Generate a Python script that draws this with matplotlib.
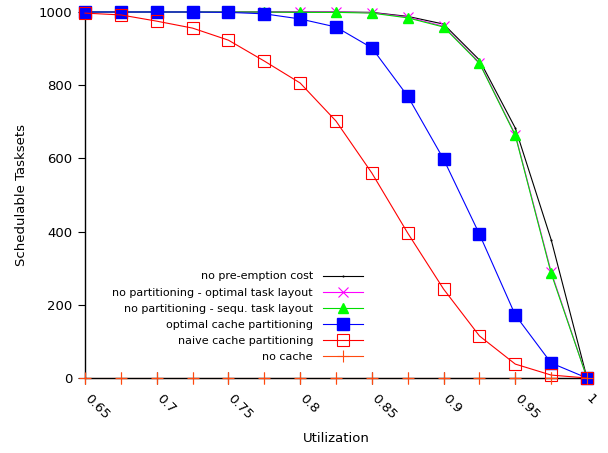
import matplotlib
matplotlib.use("Agg")
import matplotlib.pyplot as plt
from matplotlib.transforms import ScaledTranslation

utilization = [0.65, 0.675, 0.7, 0.725, 0.75, 0.775, 0.8, 0.825, 0.85, 0.875, 0.9, 0.925, 0.95, 0.975, 1.0]

no_preemption = [1000, 1000, 1000, 1000, 1000, 1000, 1000, 1000, 999, 988, 967, 869, 683, 378, 0]
nopart_optimal = [1000, 1000, 1000, 1000, 1000, 1000, 1000, 1000, 998, 986, 961, 862, 665, 290, 0]
nopart_sequ = [1000, 1000, 1000, 1000, 1000, 1000, 999, 999, 997, 984, 959, 860, 663, 286, 0]
optimal_cache = [1000, 1000, 1000, 1000, 999, 995, 981, 959, 902, 770, 598, 393, 172, 41, 0]
naive_cache = [997, 992, 975, 956, 923, 866, 806, 702, 560, 396, 243, 115, 38, 8, 0]
no_cache = [0, 0, 0, 0, 0, 0, 0, 0, 0, 0, 0, 0, 0, 0, 0]

labels = ["no pre-emption cost", "no partitioning - optimal task layout",
          "no partitioning - sequ. task layout", "optimal cache partitioning",
          "naive cache partitioning", "no cache"]

xticks = [0.65, 0.7, 0.75, 0.8, 0.85, 0.9, 0.95, 1.0]
xticklabels = ["0.65", "0.7", "0.75", "0.8", "0.85", "0.9", "0.95", "1"]
yticks = [0, 200, 400, 600, 800, 1000]

W, H = 608, 453
fig = plt.figure(figsize=(W / 100, H / 100), dpi=100)
L, R, T, B = 85, 587, 12, 378
ax = fig.add_axes([L / W, 1 - B / H, (R - L) / W, (B - T) / H])

lw = 0.8
orange = "#ff4a10"
ax.plot(utilization, no_preemption, color="black", lw=lw, marker=".", ms=1.0,
        label=labels[0], clip_on=False, zorder=3)
ax.plot(utilization, nopart_optimal, color="#ff00ff", lw=lw, marker="x", ms=7, mew=0.8,
        label=labels[1], clip_on=False, zorder=4)
ax.plot(utilization, nopart_sequ, color="#00dd00", lw=lw, marker="^", ms=7.5,
        mfc="#00ff00", mec="#00ff00", label=labels[2], clip_on=False, zorder=5)
ax.plot(utilization, optimal_cache, color="#0000ff", lw=lw, marker="s", ms=8,
        mfc="#0000ff", mec="#0000ff", label=labels[3], clip_on=False, zorder=6)
ax.plot(utilization, naive_cache, color="#ff0000", lw=lw, marker="s", ms=8,
        mfc="none", mec="#ff0000", mew=0.8, label=labels[4], clip_on=False, zorder=7)
ax.plot(utilization, no_cache, color=orange, lw=lw, marker="+", ms=9, mew=0.8,
        label=labels[5], clip_on=False, zorder=2)
# markers of "no cache" drawn above the axis line
ax.plot(utilization, no_cache, color=orange, lw=0, marker="+", ms=9, mew=0.8,
        clip_on=False, zorder=8)

ax.set_xlim(0.65, 1.0)
ax.set_ylim(0, 1000)
for s in ["top", "right"]:
    ax.spines[s].set_visible(False)
for s in ["left", "bottom"]:
    ax.spines[s].set_linewidth(1.0)
ax.spines["left"].set_zorder(2.5)
ax.spines["bottom"].set_zorder(2.5)

ax.set_yticks(yticks)
ax.set_xticks(xticks)
ax.set_xticklabels(xticklabels, rotation=-45, ha="left", va="top", rotation_mode="anchor")
ax.tick_params(axis="y", direction="out", length=5, width=0.8, labelsize=9.5, pad=4)
ax.tick_params(axis="x", direction="inout", length=8, width=0.8, labelsize=9.5, pad=6)
off = ScaledTranslation(6 / 100, 0, fig.dpi_scale_trans)
for lab in ax.get_xticklabels():
    lab.set_transform(lab.get_transform() + off)

ax.set_xlabel("Utilization", fontsize=9.5, labelpad=7)
ax.set_ylabel("Schedulable Tasksets", fontsize=9.5, labelpad=8)

leg_x = (363 - L) / (R - L)
leg = ax.legend(loc="lower right", frameon=False, markerfirst=False, fontsize=8,
                handlelength=3.6, handletextpad=0.9, labelspacing=0.55,
                borderaxespad=0.0, borderpad=0.0)
leg.set_bbox_to_anchor((leg_x, (B - 362) / (B - T)), transform=ax.transAxes)

fig.savefig("out.png", dpi=100)
